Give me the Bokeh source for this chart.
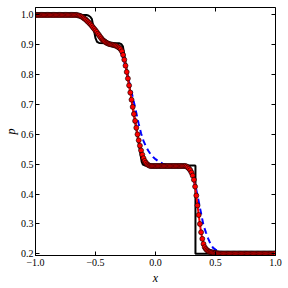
import numpy as np
from bokeh.plotting import figure
from bokeh.models import LinearAxis, FixedTicker, CustomJSTickFormatter, Range1d
from bokeh.embed import file_html
from bokeh.resources import INLINE

# exact solution (black)
exact_x = [-1.0, -0.575, -0.556, -0.542, -0.53, -0.50, -0.487, -0.47, -0.40, -0.30,
           -0.285, -0.272, -0.115, -0.105, -0.09, 0.325, 0.333, 0.333, 1.0]
exact_p = [1.0, 1.0, 0.997, 0.993, 0.986, 0.922, 0.910, 0.906, 0.905, 0.905,
           0.902, 0.895, 0.508, 0.499, 0.496, 0.496, 0.495, 0.200, 0.200]

# low-resolution solution (blue dashed)
blue_x = [-1.0, -0.68, -0.64, -0.60, -0.56, -0.52, -0.48, -0.44, -0.40, -0.36,
          -0.32, -0.30, -0.28, -0.26, -0.24, -0.22, -0.20, -0.18, -0.16, -0.14,
          -0.12, -0.10, -0.08, -0.06, -0.04, -0.02, 0.00, 0.02, 0.04, 0.06,
          0.08, 0.10, 0.14, 0.18, 0.22, 0.25, 0.27, 0.30, 0.32, 0.34,
          0.36, 0.38, 0.40, 0.42, 0.44, 0.46, 0.48, 0.50, 0.53, 0.57,
          0.65, 1.0]
blue_p = [1.0, 1.0, 0.997, 0.990, 0.977, 0.960, 0.940, 0.921, 0.908, 0.899,
          0.890, 0.882, 0.867, 0.842, 0.808, 0.776, 0.742, 0.708, 0.672, 0.635,
          0.603, 0.578, 0.560, 0.545, 0.533, 0.524, 0.517, 0.511, 0.506, 0.502,
          0.499, 0.497, 0.495, 0.494, 0.493, 0.490, 0.484, 0.465, 0.443, 0.415,
          0.375, 0.335, 0.295, 0.272, 0.250, 0.232, 0.220, 0.214, 0.208, 0.204,
          0.202, 0.201]

# high-resolution solution (red, x = -1.00 .. 1.00 step 0.01)
red_p = [
    # -1.00 .. -0.67
    1.000, 1.000, 1.000, 1.000, 1.000, 1.000, 1.000, 1.000, 1.000, 1.000,
    1.000, 1.000, 1.000, 1.000, 1.000, 1.000, 1.000, 1.000, 1.000, 1.000,
    1.000, 1.000, 1.000, 1.000, 1.000, 1.000, 1.000, 1.000, 1.000, 1.000,
    1.000, 1.000, 1.000, 1.000,
    # -0.66 .. -0.57
    1.000, 0.999, 0.998, 0.997, 0.995, 0.993, 0.990, 0.987, 0.984, 0.980,
    # -0.56 .. -0.47
    0.976, 0.972, 0.968, 0.963, 0.958, 0.953, 0.948, 0.943, 0.937, 0.932,
    # -0.46 .. -0.37
    0.926, 0.921, 0.916, 0.913, 0.910, 0.907, 0.905, 0.903, 0.902, 0.901,
    # -0.36 .. -0.27
    0.900, 0.899, 0.898, 0.897, 0.895, 0.892, 0.889, 0.885, 0.878, 0.866,
    # -0.26 .. -0.17
    0.850, 0.830, 0.809, 0.787, 0.764, 0.740, 0.716, 0.692, 0.668, 0.645,
    # -0.16 .. -0.07
    0.622, 0.600, 0.580, 0.562, 0.546, 0.532, 0.520, 0.511, 0.505, 0.500,
    # -0.06 .. 0.03
    0.497, 0.495, 0.494, 0.494, 0.494, 0.494, 0.494, 0.494, 0.494, 0.494,
    # 0.04 .. 0.13
    0.494, 0.494, 0.494, 0.494, 0.494, 0.494, 0.494, 0.494, 0.494, 0.494,
    # 0.14 .. 0.23
    0.494, 0.494, 0.494, 0.494, 0.494, 0.494, 0.494, 0.494, 0.494, 0.494,
    # 0.24 .. 0.33
    0.494, 0.494, 0.492, 0.489, 0.485, 0.480, 0.472, 0.462, 0.448, 0.425,
    # 0.34 .. 0.43
    0.395, 0.362, 0.330, 0.300, 0.272, 0.250, 0.233, 0.222, 0.216, 0.212,
    # 0.44 .. 0.53
    0.209, 0.207, 0.206, 0.205, 0.204, 0.203, 0.203, 0.202, 0.202, 0.201,
    # 0.54 .. 0.63
    0.201, 0.201, 0.201, 0.201, 0.201, 0.201, 0.201, 0.201, 0.201, 0.201,
    # 0.64 .. 0.73
    0.201, 0.201, 0.201, 0.201, 0.201, 0.201, 0.201, 0.201, 0.201, 0.201,
    # 0.74 .. 0.83
    0.201, 0.201, 0.201, 0.201, 0.201, 0.201, 0.201, 0.201, 0.201, 0.201,
    # 0.84 .. 0.93
    0.201, 0.201, 0.201, 0.201, 0.201, 0.201, 0.201, 0.201, 0.201, 0.201,
    # 0.94 .. 1.00
    0.201, 0.201, 0.201, 0.201, 0.201, 0.201, 0.201,
]
red_x = list(np.linspace(-1.0, 1.0, len(red_p)))

x_ticks = [-1.0, -0.5, 0.0, 0.5, 1.0]
y_ticks = [0.2, 0.3, 0.4, 0.5, 0.6, 0.7, 0.8, 0.9, 1.0]
x_lim = (-1.0, 1.0)
y_lim = (0.1943, 1.0248)

FONT = "Liberation Serif"

p = figure(frame_width=240, frame_height=248, output_backend="svg", toolbar_location=None,
           x_range=Range1d(*x_lim), y_range=Range1d(*y_lim),
           min_border_left=35, min_border_right=13, min_border_top=7,
           min_border_bottom=33)
p.grid.visible = False
p.outline_line_color = "black"
p.outline_line_width = 1
p.background_fill_color = "white"
p.border_fill_color = "white"

fmt = CustomJSTickFormatter(code='return (tick < 0 ? "\u2212" : "") + Math.abs(tick).toFixed(1);')

def style_axis(ax, ticks, labels=True):
    ax.ticker = FixedTicker(ticks=ticks)
    ax.major_tick_in = 4
    ax.major_tick_out = 0
    ax.major_tick_line_color = "black"
    ax.minor_tick_line_color = None
    ax.axis_line_color = "black"
    if labels:
        ax.formatter = fmt
        ax.major_label_text_font = FONT
        ax.major_label_text_color = "black"
        ax.major_label_text_font_size = "10px"
        ax.major_label_standoff = 2
    else:
        ax.major_label_text_color = None
        ax.major_label_standoff = 0

style_axis(p.xaxis[0], x_ticks)
style_axis(p.yaxis[0], y_ticks)
p.xaxis.axis_label = "x"
p.yaxis.axis_label = "p"
for ax in (p.xaxis[0], p.yaxis[0]):
    ax.axis_label_text_font = FONT
    ax.axis_label_text_font_style = "italic"
    ax.axis_label_text_font_size = "12px"
    ax.axis_label_text_color = "black"
    ax.axis_label_standoff = 0
p.xaxis[0].axis_label_standoff = 2
p.xaxis[0].major_label_standoff = 3

# tick marks on the top and right edges (drawn at the frame edges)
top = LinearAxis(fixed_location=y_lim[1])
style_axis(top, x_ticks, labels=False)
p.add_layout(top, "above")
right = LinearAxis(fixed_location=x_lim[1])
style_axis(right, y_ticks, labels=False)
p.add_layout(right, "right")

p.line(exact_x, exact_p, line_color="black", line_width=2)
p.line(blue_x, blue_p, line_color="blue", line_width=2, line_dash="6 4")
p.line(red_x, red_p, line_color="red", line_width=2)
p.scatter(red_x, red_p, size=5, fill_color="red", line_color="black", line_width=0.6)

open("out.html", "w").write(file_html(p, INLINE))
